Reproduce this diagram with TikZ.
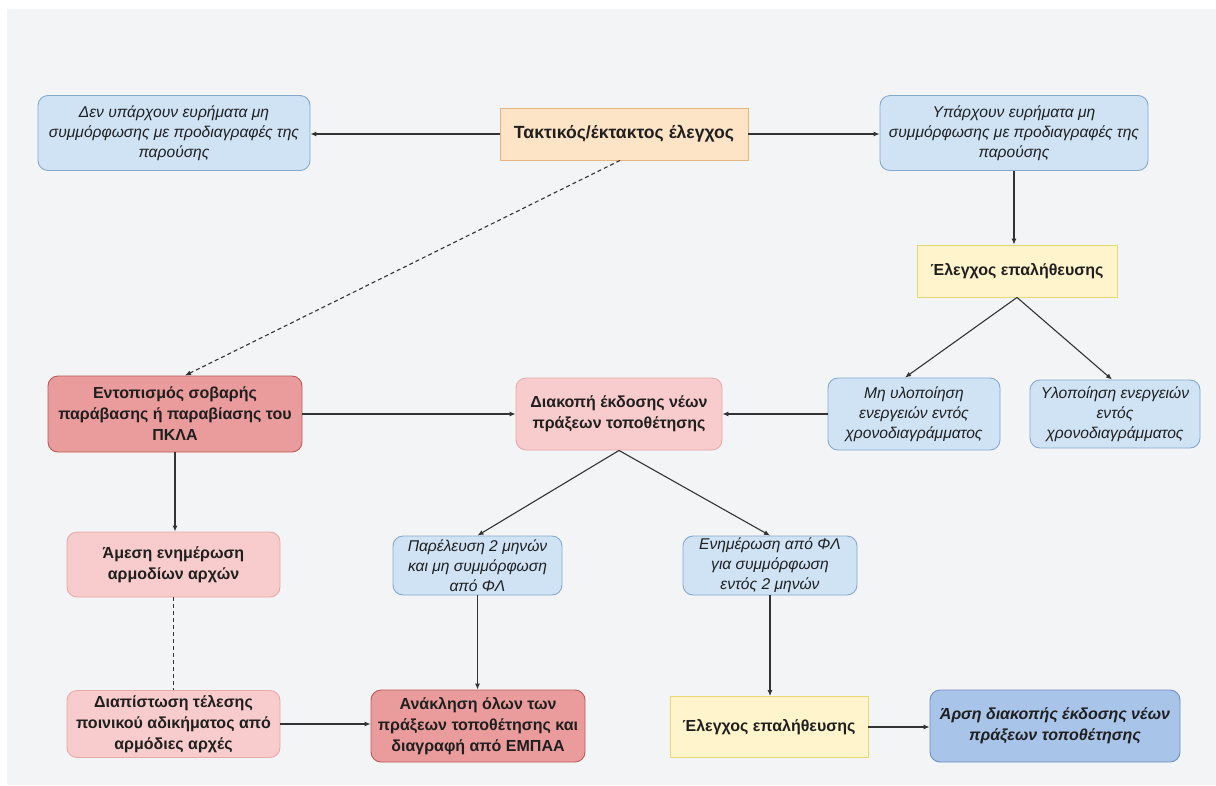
\documentclass[tikz,border=0pt]{standalone}
\usepackage{fontspec}
\setmainfont{Liberation Sans}
\usetikzlibrary{arrows.meta}
\definecolor{bgc}{HTML}{F3F4F6}
\definecolor{bluef}{HTML}{D0E3F5}
\definecolor{blued}{HTML}{84A9D1}
\definecolor{orf}{HTML}{FDE4C6}
\definecolor{ord}{HTML}{E6B47E}
\definecolor{yef}{HTML}{FFF4CC}
\definecolor{yed}{HTML}{E8D874}
\definecolor{redf}{HTML}{EA9B9C}
\definecolor{redd}{HTML}{BE5A57}
\definecolor{pinkf}{HTML}{F8CCCC}
\definecolor{pinkd}{HTML}{E9A9A9}
\definecolor{dbluef}{HTML}{A8C4E9}
\definecolor{dblued}{HTML}{6F90C0}
\definecolor{linec}{HTML}{333333}
\tikzset{
  basebox/.style={draw, line width=0.9pt, inner sep=0pt, align=center, text=black!88},
  bluebox/.style={basebox, fill=bluef, draw=blued, rounded corners=10pt, font=\fontsize{15.6}{20}\selectfont\itshape},
  orbox/.style={basebox, fill=orf, draw=ord, font=\fontsize{17.6}{21}\selectfont\bfseries},
  yebox/.style={basebox, fill=yef, draw=yed, font=\fontsize{16}{20}\selectfont\bfseries},
  redbox/.style={basebox, fill=redf, draw=redd, rounded corners=10pt, font=\fontsize{16}{21}\selectfont\bfseries},
  pinkbox/.style={basebox, fill=pinkf, draw=pinkd, rounded corners=10pt, font=\fontsize{16}{21}\selectfont\bfseries},
  dbluebox/.style={basebox, fill=dbluef, draw=dblued, rounded corners=10pt, font=\fontsize{16}{21}\selectfont\bfseries\itshape},
  arr/.style={draw=linec, line width=1.1pt, -{Latex[length=6pt,width=5pt]}},
  darr/.style={arr, dash pattern=on 4pt off 3pt},
  dline/.style={draw=linec, line width=1.1pt, dash pattern=on 4pt off 3pt},
}
\begin{document}
\begin{tikzpicture}[x=1pt,y=-1pt]
\useasboundingbox (0,0) rectangle (1216,785);
\fill[bgc] (7,9) rectangle (1216,785);

\node[bluebox, minimum width=272pt, minimum height=75pt] (n1) at (174,133) {Δεν υπάρχουν ευρήματα μη\\συμμόρφωσης με προδιαγραφές της\\παρούσης};
\node[orbox, minimum width=248pt, minimum height=52pt] (o) at (624,134) {Τακτικός/έκτακτος έλεγχος};
\node[bluebox, minimum width=268pt, minimum height=75pt] (n3) at (1014,133) {Υπάρχουν ευρήματα μη\\συμμόρφωσης με προδιαγραφές της\\παρούσης};
\node[yebox, minimum width=200pt, minimum height=52pt] (y1) at (1017,271) {Έλεγχος επαλήθευσης};
\node[bluebox, minimum width=172pt, minimum height=72pt] (mh) at (914,414) {Μη υλοποίηση\\ενεργειών εντός\\χρονοδιαγράμματος};
\node[bluebox, minimum width=170pt, minimum height=68pt] (yl) at (1115,414) {Υλοποίηση ενεργειών\\εντός\\χρονοδιαγράμματος};
\node[redbox, minimum width=254pt, minimum height=76pt] (ent) at (175,414) {Εντοπισμός σοβαρής\\παράβασης ή παραβίασης του\\ΠΚΛΑ};
\node[pinkbox, minimum width=206pt, minimum height=72pt] (dk) at (619,414) {Διακοπή έκδοσης νέων\\πράξεων τοποθέτησης};
\node[pinkbox, minimum width=213pt, minimum height=65pt] (am) at (173.5,564.5) {Άμεση ενημέρωση\\αρμοδίων αρχών};
\node[bluebox, minimum width=169pt, minimum height=59pt] (pa) at (477.5,565.5) {Παρέλευση 2 μηνών\\και μη συμμόρφωση\\από ΦΛ};
\node[bluebox, minimum width=174pt, minimum height=59pt] (en) at (770,565.5) {Ενημέρωση από ΦΛ\\για συμμόρφωση\\εντός 2 μηνών};
\node[pinkbox, minimum width=213pt, minimum height=67pt] (di) at (173.5,724) {Διαπίστωση τέλεσης\\ποινικού αδικήματος από\\αρμόδιες αρχές};
\node[redbox, minimum width=214pt, minimum height=72pt] (an) at (478,726) {Ανάκληση όλων των\\πράξεων τοποθέτησης και\\διαγραφή από ΕΜΠΑΑ};
\node[yebox, minimum width=198pt, minimum height=61pt] (y2) at (769,727) {Έλεγχος επαλήθευσης};
\node[dbluebox, minimum width=250pt, minimum height=72pt] (ar) at (1055,726) {Άρση διακοπής έκδοσης νέων\\πράξεων τοποθέτησης};

\draw[arr] (o.west) -- (o.west -| n1.east);
\draw[arr] (o.east) -- (o.east -| n3.west);
\draw[arr] (n3.south) -- (n3.south |- y1.north);
\draw[arr] (y1.south) -- ([xshift=-9pt]mh.north);
\draw[arr] (y1.south) -- ([xshift=-3pt]yl.north);
\draw[arr] (mh.west) -- (dk.east);
\draw[arr] (ent.east) -- (dk.west);
\draw[darr] ([xshift=-4pt]o.south) -- ([xshift=10pt]ent.north);
\draw[arr] (ent.south) -- (ent.south |- am.north);
\draw[arr] (dk.south) -- (pa.north);
\draw[arr] (dk.south) -- (en.north);
\draw[dline] (am.south) -- (di.north);
\draw[arr] (pa.south) -- (pa.south |- an.north);
\draw[arr] (di.east) -- (di.east -| an.west);
\draw[arr] (en.south) -- (en.south |- y2.north);
\draw[arr] (y2.east) -- (y2.east -| ar.west);
\end{tikzpicture}
\end{document}
